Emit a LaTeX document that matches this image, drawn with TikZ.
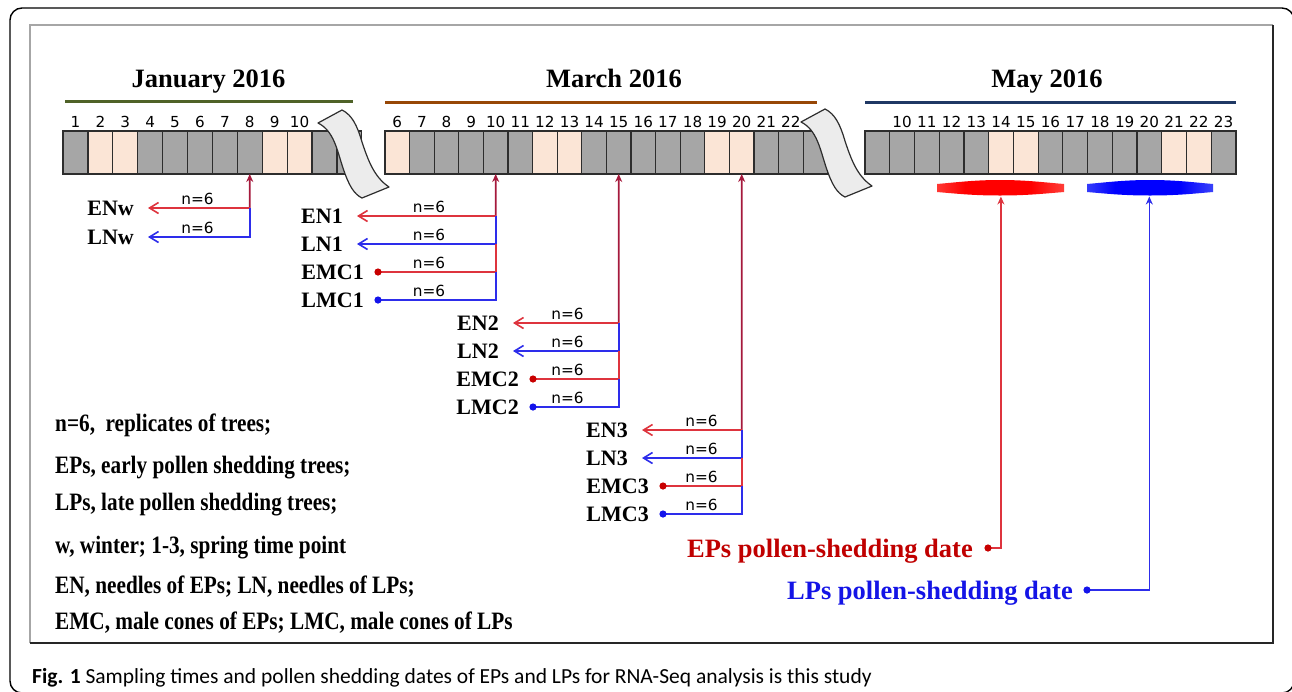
\documentclass[tikz,border=0pt]{standalone}
\usepackage{fontspec}
\setmainfont{Liberation Serif}
\newfontfamily\legfont[FakeStretch=0.85]{Liberation Serif}
\newfontfamily\numfont{DejaVu Sans}
\newfontfamily\capfont{Carlito}
\usetikzlibrary{arrows.meta}
\definecolor{gcell}{RGB}{166,166,166}
\definecolor{pcell}{RGB}{251,229,214}
\definecolor{cellline}{RGB}{45,45,45}
\definecolor{crim}{RGB}{165,25,60}
\definecolor{bred}{RGB}{222,52,62}
\definecolor{bblue}{RGB}{45,45,235}
\definecolor{dred}{RGB}{200,0,0}
\definecolor{dblue}{RGB}{20,20,235}
\definecolor{pred}{RGB}{192,0,0}
\definecolor{pblue}{RGB}{20,20,230}
\definecolor{jgreen}{RGB}{79,98,40}
\definecolor{mbrown}{RGB}{151,71,6}
\definecolor{ynavy}{RGB}{31,56,100}
\definecolor{ribfill}{RGB}{236,236,236}
\definecolor{redend}{RGB}{255,180,165}
\definecolor{blueend}{RGB}{170,195,240}
\pgfdeclarehorizontalshading{redbar}{100bp}{color(0bp)=(redend); color(36bp)=(red); color(62bp)=(red); color(100bp)=(redend)}
\pgfdeclarehorizontalshading{bluebar}{100bp}{color(0bp)=(blueend); color(36bp)=(blue); color(62bp)=(blue); color(100bp)=(blueend)}
\begin{document}
\begin{tikzpicture}[x=1pt,y=-1pt,
  cell/.style={draw=cellline, line width=1.2pt, minimum height=43pt, inner sep=0pt, outer sep=0pt},
  daynum/.style={font=\numfont\fontsize{15.2}{17}\selectfont, inner sep=0pt, anchor=base},
  nsix/.style={font=\numfont\fontsize{15.3}{17}\selectfont, inner sep=0pt, anchor=base},
  lab/.style={font=\bfseries\fontsize{22}{24}\selectfont, inner ysep=0pt, inner xsep=14pt, anchor=east},
  mtitle/.style={font=\bfseries\fontsize{26.5}{30}\selectfont, inner sep=0pt, anchor=base},
  leg/.style={font=\legfont\bfseries\fontsize{25}{28}\selectfont, inner sep=0pt, anchor=base west},
  pollab/.style={font=\bfseries\fontsize{26.5}{30}\selectfont, inner sep=0pt, anchor=base east},
  mainln/.style={draw=crim, line width=1.6pt},
  redln/.style={draw=bred, line width=1.6pt},
  blueln/.style={draw=bblue, line width=1.6pt},
  tipleft/.style={-{Straight Barb[length=9pt,width=11pt]}},
  tipup/.style={-{Stealth[length=8pt,width=7pt]}},
  ribbon/.style={fill=ribfill, draw=cellline, line width=1.2pt, line join=round}
]
\path[use as bounding box] (0,0) rectangle (1292,691);
\fill[white] (0,0) rectangle (1292,691);
\begin{scope}
\clip (0,0) rectangle (1292,691);
\draw[black, line width=1.4pt, rounded corners=12pt] (10,8) rectangle (1294,693);
\end{scope}
\draw[gray!70, line width=1.2pt] (30,643) -- (30,25) -- (1273,25);
\draw[black!85, line width=2pt] (1273,25) -- (1273,643) -- (30,643);

% titles and month lines
\node[mtitle] (tjan) at (208.5,87.5) {January 2016};
\node[mtitle] (tmar) at (614,87.5) {March 2016};
\node[mtitle] (tmay) at (1047,87.5) {May 2016};
\draw[jgreen, line width=3pt] (65,101) -- (353,101);
\draw[mbrown, line width=3pt] (385,102) -- (817,102);
\draw[ynavy, line width=3pt] (865,102) -- (1236,102);

% January cells
\foreach \k/\c in {1/gcell,2/pcell,3/pcell,4/gcell,5/gcell,6/gcell,7/gcell,8/gcell,9/pcell,10/pcell,11/gcell,12/gcell}{
  \pgfmathsetmacro\cx{63+(\k-0.5)*24.9}
  \node[cell, minimum width=24.9pt, fill=\c] (j\k) at (\cx,152.5) {};
}
\foreach \k in {1,...,10}{
  \pgfmathsetmacro\cx{63+(\k-0.5)*24.9}
  \node[daynum] (jn\k) at (\cx,127.5) {\k};
}
% March cells
\foreach \k/\c in {6/pcell,7/gcell,8/gcell,9/gcell,10/gcell,11/gcell,12/pcell,13/pcell,14/gcell,15/gcell,16/gcell,17/gcell,18/gcell,19/pcell,20/pcell,21/gcell,22/gcell,23/gcell}{
  \pgfmathsetmacro\cx{385+(\k-5.5)*24.6}
  \node[cell, minimum width=24.6pt, fill=\c] (m\k) at (\cx,152.5) {};
}
\foreach \k in {6,...,22}{
  \pgfmathsetmacro\cx{385+(\k-5.5)*24.6}
  \node[daynum] (mn\k) at (\cx,127.5) {\k};
}
% May cells
\foreach \k/\c in {9/gcell,10/gcell,11/gcell,12/gcell,13/gcell,14/pcell,15/pcell,16/gcell,17/gcell,18/gcell,19/gcell,20/gcell,21/pcell,22/pcell,23/gcell}{
  \pgfmathsetmacro\cx{865+(\k-8.5)*24.73}
  \node[cell, minimum width=24.73pt, fill=\c] (y\k) at (\cx,152.5) {};
}
\foreach \k in {10,...,23}{
  \pgfmathsetmacro\cx{865+(\k-8.5)*24.73}
  \node[daynum] (yn\k) at (\cx,127.5) {\k};
}

% break ribbons
\path[ribbon] (318,123) .. controls (334,131) and (337,150) .. (343,168)
  .. controls (349,186) and (354,194) .. (362,198) -- (389,187)
  .. controls (374,177) and (368,160) .. (362,142)
  .. controls (357,125) and (352,115) .. (342,110) -- cycle;
\begin{scope}[shift={(483,-1)}]
\path[ribbon] (318,123) .. controls (334,131) and (337,150) .. (343,168)
  .. controls (349,186) and (354,194) .. (362,198) -- (389,187)
  .. controls (374,177) and (368,160) .. (362,142)
  .. controls (357,125) and (352,115) .. (342,110) -- cycle;
\end{scope}

% pollen bars
\shade[shading=redbar] (937,184) .. controls (960,182) and (975,180) .. (1000,180)
  .. controls (1025,180) and (1040,182) .. (1064,184) -- (1064,192)
  .. controls (1040,194) and (1025,195.5) .. (1000,195.5)
  .. controls (975,195.5) and (960,194) .. (937,192) -- cycle;
\shade[shading=bluebar] (1087,184) .. controls (1110,182) and (1125,180) .. (1150,180)
  .. controls (1175,180) and (1190,182) .. (1213,184) -- (1213,192)
  .. controls (1190,194) and (1175,195.5) .. (1150,195.5)
  .. controls (1125,195.5) and (1110,194) .. (1087,192) -- cycle;
\coordinate (rbar) at (1000.9,196.5);
\coordinate (bbar) at (1149.3,196.5);

% January sampling
\coordinate (jA) at (249.75,208);
\coordinate (jB) at (249.75,237);
\node[lab] (ENw) at (148,208) {ENw};
\node[lab] (LNw) at (148,237) {LNw};
\draw[mainln, tipup] (jA) -- (j8.south);
\draw[redln, tipleft] (jA) -- (ENw.east);
\draw[blueln, tipleft] (jA) -- (jB) -- (LNw.east);
\node[nsix] (nw1) at (197.5,204) {n=6};
\node[nsix] (nw2) at (197.5,233) {n=6};

% March 10
\coordinate (aA) at (495.7,216);
\coordinate (aB) at (495.7,244);
\coordinate (aC) at (495.7,272);
\coordinate (aD) at (495.7,300);
\node[lab] (EN1) at (357,216) {EN1};
\node[lab] (LN1) at (357,244) {LN1};
\node[lab] (EMC1) at (378,272) {EMC1};
\node[lab] (LMC1) at (378,300) {LMC1};
\draw[mainln, tipup] (aA) -- (m10.south);
\draw[redln, tipleft] (aA) -- (EN1.east);
\draw[blueln, tipleft] (aA) -- (aB) -- (LN1.east);
\draw[redln] (aB) -- (aC) -- (EMC1.east);
\draw[blueln] (aC) -- (aD) -- (LMC1.east);
\fill[dred] (EMC1.east) circle (3.6);
\fill[dblue] (LMC1.east) circle (3.6);
\node[nsix] (na1) at (429,212) {n=6};
\node[nsix] (na2) at (429,240) {n=6};
\node[nsix] (na3) at (429,268) {n=6};
\node[nsix] (na4) at (429,296) {n=6};

% March 15
\coordinate (bA) at (618.7,323);
\coordinate (bB) at (618.7,351);
\coordinate (bC) at (618.7,379);
\coordinate (bD) at (618.7,407);
\node[lab] (EN2) at (513,323) {EN2};
\node[lab] (LN2) at (513,351) {LN2};
\node[lab] (EMC2) at (533,379) {EMC2};
\node[lab] (LMC2) at (533,407) {LMC2};
\draw[mainln, tipup] (bA) -- (m15.south);
\draw[redln, tipleft] (bA) -- (EN2.east);
\draw[blueln, tipleft] (bA) -- (bB) -- (LN2.east);
\draw[redln] (bB) -- (bC) -- (EMC2.east);
\draw[blueln] (bC) -- (bD) -- (LMC2.east);
\fill[dred] (EMC2.east) circle (3.6);
\fill[dblue] (LMC2.east) circle (3.6);
\node[nsix] (nb1) at (567.5,319) {n=6};
\node[nsix] (nb2) at (567.5,347) {n=6};
\node[nsix] (nb3) at (567.5,375) {n=6};
\node[nsix] (nb4) at (567.5,403) {n=6};

% March 20
\coordinate (cA) at (741.7,430);
\coordinate (cB) at (741.7,458);
\coordinate (cC) at (741.7,486);
\coordinate (cD) at (741.7,514);
\node[lab] (EN3) at (642,430) {EN3};
\node[lab] (LN3) at (642,458) {LN3};
\node[lab] (EMC3) at (663,486) {EMC3};
\node[lab] (LMC3) at (663,514) {LMC3};
\draw[mainln, tipup] (cA) -- (m20.south);
\draw[redln, tipleft] (cA) -- (EN3.east);
\draw[blueln, tipleft] (cA) -- (cB) -- (LN3.east);
\draw[redln] (cB) -- (cC) -- (EMC3.east);
\draw[blueln] (cC) -- (cD) -- (LMC3.east);
\fill[dred] (EMC3.east) circle (3.6);
\fill[dblue] (LMC3.east) circle (3.6);
\node[nsix] (nc1) at (701.5,426) {n=6};
\node[nsix] (nc2) at (701.5,454) {n=6};
\node[nsix] (nc3) at (701.5,482) {n=6};
\node[nsix] (nc4) at (701.5,510) {n=6};

% pollen shedding dates
\coordinate (epd) at (988,548);
\coordinate (epc) at (1000.9,548);
\coordinate (lpd) at (1087,590);
\coordinate (lpc) at (1149.3,590);
\draw[redln, tipup] (epd) -- (epc) -- (rbar);
\draw[blueln, tipup] (lpd) -- (lpc) -- (bbar);
\fill[dred] (epd) circle (3.6);
\fill[dblue] (lpd) circle (3.6);
\node[pollab, text=pred] (EPlab) at (973,557) {EPs pollen-shedding date};
\node[pollab, text=pblue] (LPlab) at (1073,599) {LPs pollen-shedding date};

% legend
\node[leg] (lg1) at (55,431) {n=6,\ \ replicates of trees;};
\node[leg] (lg2) at (55,473) {EPs, early pollen shedding trees;};
\node[leg] (lg3) at (55,510) {LPs, late pollen shedding trees;};
\node[leg] (lg4) at (55,553) {w, winter; 1-3, spring time point};
\node[leg] (lg5) at (55,593) {EN, needles of EPs; LN, needles of LPs;};
\node[leg] (lg6) at (55,629) {EMC, male cones of EPs; LMC, male cones of LPs};

% caption
\node[anchor=base west, inner sep=0pt, font=\capfont\fontsize{21.5}{24}\selectfont] (cap) at (32,683)
  {\textbf{Fig. 1} Sampling times and pollen shedding dates of EPs and LPs for RNA-Seq analysis is this study};
\end{tikzpicture}
\end{document}
